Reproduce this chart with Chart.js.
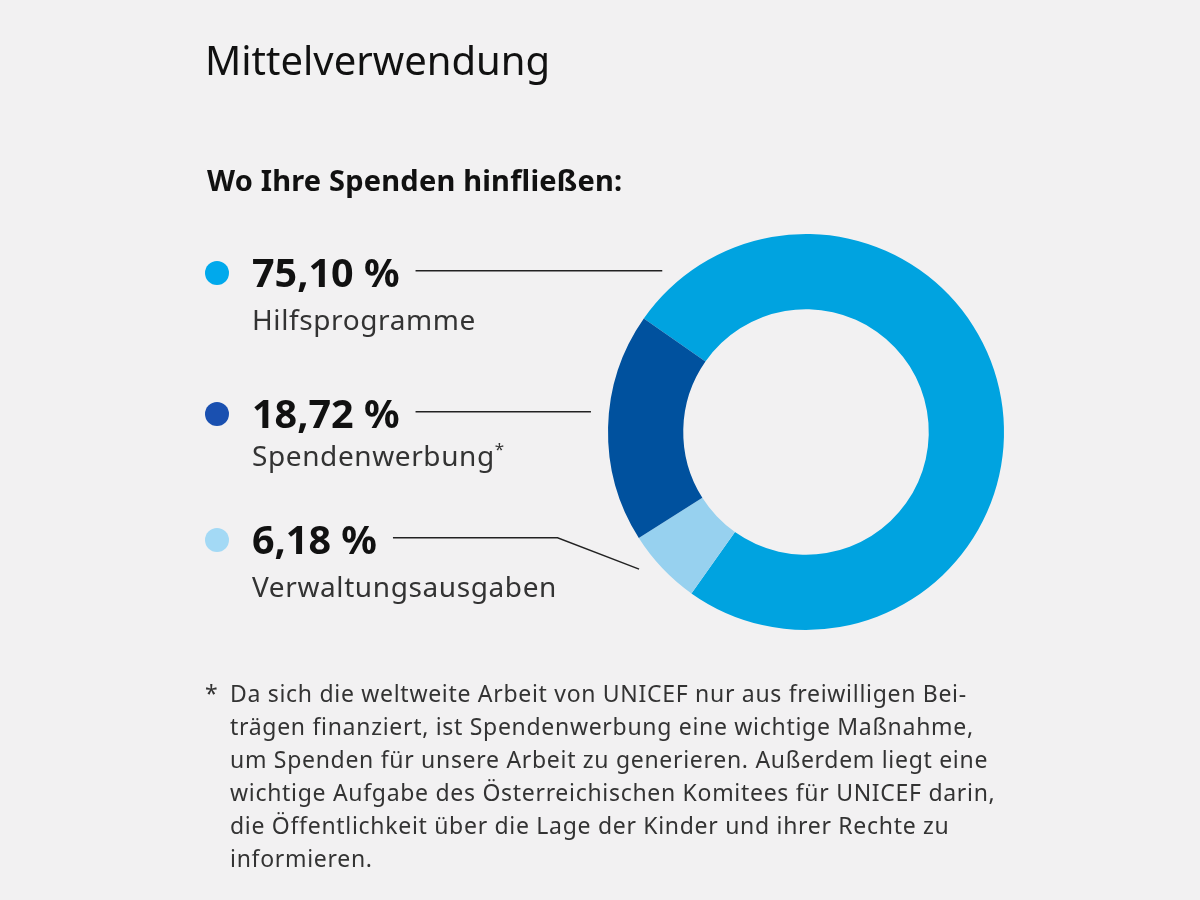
<!DOCTYPE html>
<html lang="de">
<head>
<meta charset="utf-8">
<title>Mittelverwendung</title>
<script src="https://cdn.jsdelivr.net/npm/chart.js@4.4.1/dist/chart.umd.min.js"></script>
<style>
    html, body {
        margin: 0;
        padding: 0;
        background: #f2f1f2;
        font-family: "Noto Sans", "Open Sans", sans-serif;
    }
    .page {
        position: relative;
        width: 1200px;
        height: 900px;
        overflow: hidden;
    }
    #chart-wrap {
        position: absolute;
        left: 0;
        top: 0;
        width: 1200px;
        height: 900px;
    }
    .title {
        position: absolute;
        left: 205px;
        top: 40px;
        font-size: 40px;
        line-height: 1;
        color: #111;
    }
    .subtitle {
        position: absolute;
        left: 207px;
        top: 165px;
        font-size: 29px;
        font-weight: 700;
        letter-spacing: 0.2px;
        line-height: 1;
        color: #111;
    }
    .row {
        position: absolute;
        left: 205px;
    }
    .row:nth-child(1) { top: 253px; }
    .row:nth-child(2) { top: 394px; }
    .row:nth-child(3) { top: 520px; }
    .dot {
        position: absolute;
        left: 0;
        top: 8px;
        width: 24px;
        height: 24px;
        border-radius: 50%;
    }
    .pct {
        display: inline-block;
        margin-left: 47px;
        font-size: 39.5px;
        font-weight: 700;
        line-height: 1;
        color: #111;
        white-space: nowrap;
    }
    .cat {
        margin-left: 47px;
        margin-top: 12px;
        font-size: 28px;
        letter-spacing: 0.6px;
        line-height: 1;
        color: #333;
        white-space: nowrap;
    }
    .row:nth-child(2) .cat { margin-top: 7px; }
    .cat sup {
        font-size: 17px;
        line-height: 0;
        vertical-align: 11px;
    }
    .note {
        position: absolute;
        left: 205px;
        top: 677px;
        font-size: 23px;
        letter-spacing: 0.7px;
        line-height: 33px;
        color: #333;
        padding-left: 25px;
        white-space: nowrap;
    }
    .note .star {
        position: absolute;
        left: 0;
        top: 0;
    }
</style>
</head>
<body>
<div class="page">
    <div id="chart-wrap"><canvas id="donut"></canvas></div>
    <div class="title">Mittelverwendung</div>
    <div class="subtitle">Wo Ihre Spenden hinfließen:</div>
    <div id="legend"></div>
    <div class="note"><span class="star">*</span>Da sich die weltweite Arbeit von UNICEF nur aus freiwilligen Bei-<br>trägen finanziert, ist Spendenwerbung eine wichtige Maßnahme,<br>um Spenden für unsere Arbeit zu generieren. Außerdem liegt eine<br>wichtige Aufgabe des Österreichischen Komitees für UNICEF darin,<br>die Öffentlichkeit über die Lage der Kinder und ihrer Rechte zu<br>informieren.</div>
</div>
<script>
// Data
const categories = ['Hilfsprogramme', 'Spendenwerbung', 'Verwaltungsausgaben'];
const shares = [75.10, 18.72, 6.18];
const footnoteMarks = ['', '*', ''];
// clockwise order of the slices in the ring (indices into categories)
const ringOrder = [0, 2, 1];

// Colours
const ringColors = ['#00a3e0', '#00519e', '#97d1ef'];
const dotColors = ['#00a9ec', '#1a50b0', '#a3d9f5'];

const formatShare = v => v.toFixed(2).replace('.', ',') + ' %';

// Legend rows
const legendBox = document.getElementById('legend');
categories.forEach((cat, i) => {
    const row = document.createElement('div');
    row.className = 'row';
    const mark = footnoteMarks[i] ? `<sup>${footnoteMarks[i]}</sup>` : '';
    row.innerHTML = `
        <span class="dot" style="background:${dotColors[i]}"></span>
        <span class="pct">${formatShare(shares[i])}</span>
        <div class="cat">${cat}${mark}</div>
    `;
    legendBox.appendChild(row);
});

// Leader lines from the percentage labels to the ring
const leaderLines = {
    id: 'leaderLines',
    afterDraw(chart, args, opts) {
        const ctx = chart.ctx;
        const meta = chart.getDatasetMeta(0);
        const box = chart.canvas.getBoundingClientRect();
        const TWO_PI = Math.PI * 2;
        document.querySelectorAll('#legend .pct').forEach((el, i) => {
            const arc = meta.data[ringOrder.indexOf(i)];
            if (!arc) return;
            const p = arc.getProps(['x', 'y', 'startAngle', 'endAngle', 'outerRadius'], true);
            const r = el.getBoundingClientRect();
            const x0 = r.right - box.left + opts.gap;
            const y0 = r.top - box.top + r.height * opts.yFrac;
            const R = p.outerRadius + opts.offset;
            const dy = Math.max(-R, Math.min(R, y0 - p.y));
            let a = Math.atan2(dy, -Math.sqrt(R * R - dy * dy));
            while (a < p.startAngle) a += TWO_PI;
            while (a - TWO_PI >= p.startAngle) a -= TWO_PI;

            ctx.save();
            ctx.strokeStyle = opts.color;
            ctx.lineWidth = opts.width;
            ctx.beginPath();
            ctx.moveTo(x0, y0);
            if (a <= p.endAngle) {
                ctx.lineTo(p.x + R * Math.cos(a), y0);
            } else {
                // horizontal line misses the slice: bend down onto it
                const pad = opts.pad * Math.PI / 180;
                const target = (a - p.endAngle < p.startAngle + TWO_PI - a)
                    ? p.endAngle - pad : p.startAngle + pad;
                const ex = p.x + R * Math.cos(target);
                const ey = p.y + R * Math.sin(target);
                const bx = ex - Math.abs(ey - y0) / Math.tan(opts.bend * Math.PI / 180);
                ctx.lineTo(bx, y0);
                ctx.lineTo(ex, ey);
            }
            ctx.stroke();
            ctx.restore();
        });
    }
};

// Donut chart
const ctx = document.getElementById('donut').getContext('2d');
new Chart(ctx, {
    type: 'doughnut',
    data: {
        labels: ringOrder.map(i => categories[i]),
        datasets: [{
            data: ringOrder.map(i => shares[i]),
            backgroundColor: ringOrder.map(i => ringColors[i]),
            borderWidth: 0,
            hoverOffset: 0
        }]
    },
    options: {
        responsive: true,
        maintainAspectRatio: false,
        animation: false,
        rotation: -55,
        cutout: '62%',
        layout: {
            padding: { left: 608, right: 196, top: 234, bottom: 270 }
        },
        plugins: {
            legend: { display: false },
            tooltip: { enabled: false },
            leaderLines: { gap: 16, yFrac: 0.45, offset: 18, pad: 7, bend: 21, color: '#222', width: 1.4 }
        }
    },
    plugins: [leaderLines]
});
</script>
</body>
</html>
